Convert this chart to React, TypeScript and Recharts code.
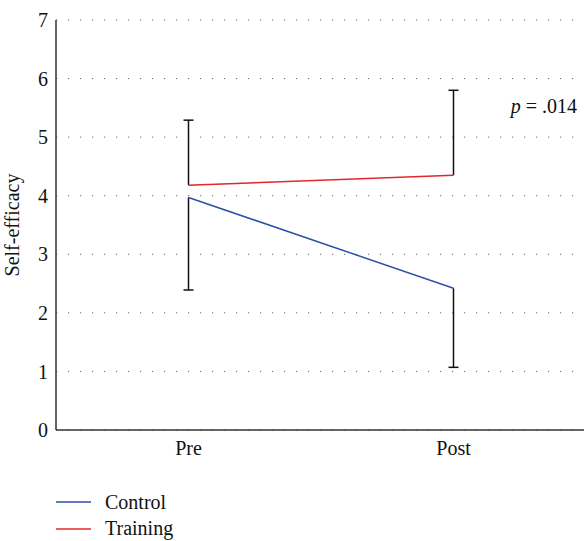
import React from "react";
import {
  ComposedChart,
  Line,
  XAxis,
  YAxis,
  CartesianGrid,
  ErrorBar,
  ReferenceDot,
  Legend,
  Customized,
} from "recharts";

const categories = ["Pre", "Post"];
const controlMean = [3.97, 2.42];
const trainingMean = [4.18, 4.35];
// one-sided error bars: control goes down, training goes up
const controlLow = [2.39, 1.07];
const trainingHigh = [5.29, 5.8];
const yTicks = [0, 1, 2, 3, 4, 5, 6, 7];

const BLUE = "#2f4fa8";
const RED = "#e3262b";
const FONT = "Liberation Serif";
const FS = 20;

const data = categories.map((name, i) => ({
  name,
  control: controlMean[i],
  training: trainingMean[i],
  controlErr: [controlMean[i] - controlLow[i], 0],
  trainingErr: [0, trainingHigh[i] - trainingMean[i]],
}));

const Cap = (props: any) => {
  const { cx, cy } = props;
  return (
    <line x1={cx - 5} x2={cx + 5} y1={cy} y2={cy} stroke="#111" strokeWidth={1.5} />
  );
};

const legendItems = [
  { label: "Control", color: BLUE },
  { label: "Training", color: RED },
];

function LegendBox() {
  return (
    <div
      style={{
        paddingLeft: 56,
        paddingTop: 2,
        height: 52,
        fontFamily: FONT,
        fontSize: FS,
        color: "#111",
      }}
    >
      {legendItems.map((it) => (
        <div key={it.label} style={{ height: 26.5, display: "flex", alignItems: "center" }}>
          <svg width={35} height={4} style={{ marginRight: 14 }}>
            <line x1={0} x2={35} y1={2} y2={2} stroke={it.color} strokeWidth={1.5} />
          </svg>
          <span>{it.label}</span>
        </div>
      ))}
    </div>
  );
}

export default function App() {
  return (
    <div
      style={{
        position: "absolute",
        left: 0,
        top: 0,
        width: 584,
        height: 541,
        overflow: "hidden",
        background: "#fff",
        fontFamily: FONT,
      }}
    >
      <ComposedChart
        width={590}
        height={541}
        data={data}
        margin={{ top: 20, right: 4, bottom: 0, left: 0 }}
        style={{ fontFamily: FONT }}
      >
        <CartesianGrid
          vertical={false}
          stroke="#666"
          strokeDasharray="1.2 10.8"
        />
        <XAxis
          dataKey="name"
          scale="band"
          height={57}
          tickLine={false}
          axisLine={{ stroke: "#333", strokeWidth: 1.5 }}
          tick={{ fill: "#111", fontSize: FS, fontFamily: FONT }}
          tickMargin={5}
        />
        <YAxis
          width={56}
          domain={[0, 7]}
          ticks={yTicks}
          tickLine={false}
          axisLine={{ stroke: "#333", strokeWidth: 1.5 }}
          tick={{ fill: "#111", fontSize: FS, fontFamily: FONT }}
          label={{
            value: "Self-efficacy",
            angle: -90,
            position: "insideLeft",
            offset: 12,
            style: { textAnchor: "middle", fill: "#111", fontSize: FS, fontFamily: FONT },
          }}
        />
        <Line
          type="linear"
          dataKey="control"
          stroke={BLUE}
          strokeWidth={1.5}
          dot={false}
          isAnimationActive={false}
        >
          <ErrorBar dataKey="controlErr" width={0} stroke="#111" strokeWidth={1.5} direction="y" />
        </Line>
        <Line
          type="linear"
          dataKey="training"
          stroke={RED}
          strokeWidth={1.5}
          dot={false}
          isAnimationActive={false}
        >
          <ErrorBar dataKey="trainingErr" width={0} stroke="#111" strokeWidth={1.5} direction="y" />
        </Line>
        {categories.map((c, i) => (
          <ReferenceDot key={"lo" + c} x={c} y={controlLow[i]} shape={Cap} />
        ))}
        {categories.map((c, i) => (
          <ReferenceDot key={"hi" + c} x={c} y={trainingHigh[i]} shape={Cap} />
        ))}
        <Customized
          component={() => (
            <text x={577} y={113} textAnchor="end" fontFamily={FONT} fontSize={FS} fill="#111">
              <tspan fontStyle="italic">p</tspan> = .014
            </text>
          )}
        />
        <Legend verticalAlign="bottom" align="left" content={() => <LegendBox />} />
      </ComposedChart>
    </div>
  );
}
